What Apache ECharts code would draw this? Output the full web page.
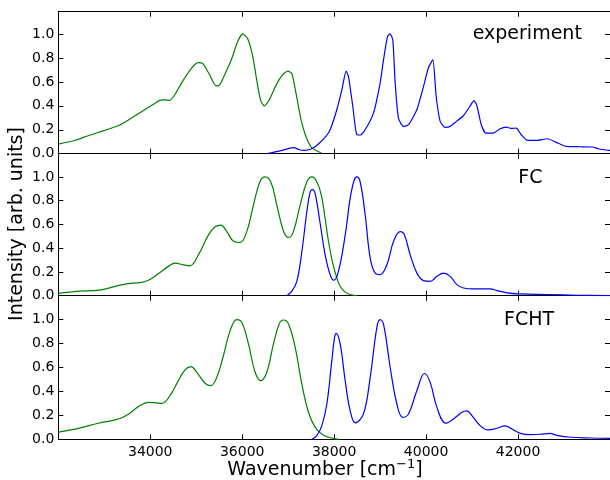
<!DOCTYPE html>
<html>
<head>
<meta charset="utf-8">
<script src="https://cdn.jsdelivr.net/npm/echarts@6/dist/echarts.min.js"></script>
<style>
  html, body { margin: 0; padding: 0; background: #fff; }
  #chart { width: 610px; height: 480px; }
</style>
</head>
<body>
<div id="chart"></div>
<script>
// Axis ticks
const wavenumberTicks = [34000, 36000, 38000, 40000, 42000];
const intensityTicks = [0, 0.2, 0.4, 0.6, 0.8, 1.0];
const panelNames = ['experiment', 'FC', 'FCHT'];

// Spectra: [wavenumber (cm^-1), normalised intensity]
const expEmission = [
  [32000,0.08],[32360,0.11],[32650,0.15],[33010,0.195],[33340,0.24],[33520,0.28],[33810,0.35],
  [34100,0.42],[34200,0.445],[34310,0.45],[34420,0.445],[34530,0.49],[34680,0.59],[34890,0.71],
  [35040,0.76],[35150,0.75],[35290,0.66],[35430,0.567],[35510,0.575],[35650,0.686],[35760,0.78],
  [35900,0.935],[36010,1.0],[36120,0.96],[36230,0.81],[36340,0.56],[36410,0.435],[36480,0.40],
  [36590,0.45],[36740,0.575],[36880,0.66],[36990,0.69],[37080,0.67],[37170,0.505],[37280,0.283],
  [37390,0.14],[37500,0.056],[37600,0.028],[37720,0.005]
];
const expAbsorption = [
  [36550,0],[36840,0.025],[37020,0.044],[37130,0.05],[37240,0.033],[37350,0.028],[37500,0.039],
  [37640,0.075],[37820,0.144],[37913,0.2],[38058,0.367],[38167,0.533],[38261,0.69],[38312,0.644],
  [38406,0.394],[38493,0.158],[38565,0.156],[38674,0.2],[38855,0.339],[39000,0.59],[39073,0.783],
  [39160,0.978],[39218,1.0],[39276,0.95],[39327,0.59],[39399,0.297],[39508,0.228],[39617,0.242],
  [39798,0.367],[39943,0.56],[40052,0.72],[40146,0.783],[40219,0.478],[40306,0.27],[40410,0.22],
  [40520,0.228],[40660,0.27],[40810,0.317],[40950,0.394],[41040,0.444],[41100,0.408],[41200,0.242],
  [41300,0.172],[41460,0.172],[41600,0.206],[41740,0.222],[41850,0.211],[41960,0.214],[42070,0.158],
  [42210,0.111],[42390,0.111],[42640,0.125],[42820,0.097],[43040,0.061],[43330,0.058],[43620,0.056],
  [43760,0.039],[43960,0.028],[44000,0.027]
];
const fcEmission = [
  [32000,0.02],[32348,0.035],[32930,0.049],[33234,0.079],[33488,0.10],[33815,0.113],[33959,0.13],
  [34176,0.185],[34394,0.247],[34540,0.275],[34720,0.26],[34866,0.252],[35047,0.344],[35264,0.51],
  [35410,0.58],[35534,0.595],[35665,0.54],[35808,0.46],[35954,0.448],[36100,0.54],[36244,0.763],
  [36390,0.964],[36498,1.0],[36629,0.952],[36753,0.763],[36897,0.545],[37006,0.49],[37114,0.54],
  [37260,0.763],[37406,0.958],[37515,1.0],[37623,0.96],[37720,0.85],[37800,0.66],[37880,0.45],
  [37960,0.29],[38050,0.16],[38130,0.08],[38240,0.03],[38360,0.008],[38500,0]
];
const fcAbsorption = [
  [36970,0],[37079,0.038],[37188,0.12],[37297,0.37],[37406,0.707],[37478,0.874],[37528,0.894],
  [37587,0.86],[37695,0.61],[37804,0.344],[37913,0.177],[37990,0.13],[38094,0.205],[38240,0.51],
  [38348,0.82],[38435,0.972],[38494,1.0],[38566,0.958],[38675,0.68],[38784,0.316],[38892,0.19],
  [39001,0.178],[39147,0.26],[39291,0.456],[39436,0.54],[39523,0.517],[39654,0.344],[39800,0.19],
  [39943,0.127],[40089,0.121],[40234,0.163],[40379,0.19],[40524,0.163],[40670,0.093],[40814,0.065],
  [41031,0.057],[41249,0.057],[41395,0.057],[41541,0.043],[41758,0.024],[42048,0.015],[42629,0.01],
  [43282,0.004],[44000,0.001]
];
const fchtEmission = [
  [32000,0.06],[32436,0.092],[32871,0.134],[33306,0.17],[33524,0.21],[33742,0.273],[33959,0.309],
  [34104,0.306],[34250,0.30],[34431,0.365],[34612,0.49],[34757,0.58],[34888,0.607],[35011,0.56],
  [35193,0.468],[35316,0.448],[35447,0.518],[35592,0.70],[35737,0.908],[35882,1.0],[35991,0.978],
  [36136,0.797],[36281,0.56],[36405,0.49],[36535,0.56],[36680,0.797],[36804,0.964],[36898,0.997],
  [37007,0.964],[37152,0.769],[37297,0.462],[37442,0.226],[37587,0.1],[37732,0.045],[37877,0.017],
  [38008,0.006],[38100,0]
];
const fchtAbsorption = [
  [37514,0],[37623,0.03],[37732,0.114],[37841,0.295],[37949,0.657],[38008,0.85],[38044,0.886],
  [38131,0.797],[38240,0.49],[38348,0.24],[38460,0.138],[38638,0.212],[38784,0.518],[38929,0.936],
  [39001,1.0],[39073,0.964],[39219,0.6],[39364,0.295],[39490,0.183],[39617,0.212],[39800,0.407],
  [39965,0.55],[40089,0.476],[40235,0.267],[40430,0.135],[40596,0.17],[40779,0.226],[40885,0.238],
  [40997,0.198],[41177,0.114],[41350,0.078],[41541,0.092],[41722,0.113],[41867,0.086],[42048,0.05],
  [42266,0.039],[42483,0.042],[42690,0.05],[42847,0.033],[43136,0.017],[43571,0.011],[44000,0.008]
];

const panelSeries = [
  [expEmission, expAbsorption],
  [fcEmission, fcAbsorption],
  [fchtEmission, fchtAbsorption]
];

const FONT = 'DejaVu Sans';
const GREEN = '#008000';
const BLUE = '#0000ff';

// Three stacked panels sharing the wavenumber range
const panels = [
  { top: 11.7, height: 142, yMax: 1.186, smooth: 0.2 },
  { top: 153.7, height: 142, yMax: 1.196, smooth: 0.4 },
  { top: 295.7, height: 143.6, yMax: 1.2, smooth: 0.4 }
];

const grid = [], xAxis = [], yAxis = [], series = [];
panels.forEach((p, i) => {
  grid.push({ left: 58.3, top: p.top, width: 552, height: p.height });
  const xBase = {
    gridIndex: i, type: 'value', min: 32000, max: 44000,
    splitLine: { show: false },
    axisLine: { onZero: false, lineStyle: { color: '#000', width: 1 } },
    axisTick: { inside: true, length: 5, customValues: wavenumberTicks, lineStyle: { color: '#000', width: 1 } }
  };
  xAxis.push(Object.assign({}, xBase, {
    position: 'bottom',
    axisLabel: {
      show: i === 2, customValues: wavenumberTicks, margin: 6,
      fontFamily: FONT, fontSize: 14, color: '#000',
      formatter: v => String(v)
    }
  }));
  xAxis.push(Object.assign({}, xBase, { position: 'top', axisLabel: { show: false } }));
  const yBase = {
    gridIndex: i, type: 'value', min: 0, max: p.yMax,
    splitLine: { show: false },
    axisLine: { show: true, onZero: false, lineStyle: { color: '#000', width: 1 } },
    axisTick: { show: true, inside: true, length: 5, customValues: intensityTicks, lineStyle: { color: '#000', width: 1 } }
  };
  yAxis.push(Object.assign({}, yBase, {
    position: 'left',
    axisLabel: {
      customValues: intensityTicks, margin: 4,
      fontFamily: FONT, fontSize: 14, color: '#000',
      formatter: v => v.toFixed(1)
    }
  }));
  yAxis.push(Object.assign({}, yBase, { position: 'right', axisLabel: { show: false } }));

  const [emission, absorption] = panelSeries[i];
  [[emission, GREEN], [absorption, BLUE]].forEach(([data, color]) => {
    series.push({
      type: 'line', xAxisIndex: 2 * i, yAxisIndex: 2 * i,
      data: data, showSymbol: false, symbol: 'none',
      smooth: p.smooth, animation: false, silent: true,
      lineStyle: { color: color, width: 1.2 }
    });
  });
});

const labelPos = [[472.7, 33.5], [518.3, 176.8], [504, 319.5]];
const graphic = panelNames.map((name, i) => ({
  type: 'text', left: labelPos[i][0], top: labelPos[i][1] - 8.6,
  style: { text: name, fontFamily: FONT, fontSize: 19, fill: '#000' }
}));
graphic.push({
  type: 'text', x: 17, y: 224, rotation: Math.PI / 2,
  style: {
    text: 'Intensity [arb. units]', fontFamily: FONT, fontSize: 19, fill: '#000',
    align: 'center', verticalAlign: 'middle'
  }
});
graphic.push({
  type: 'text', x: 325, y: 470,
  style: {
    text: '{m|Wavenumber [cm}{s|\u22121}{m|]}',
    align: 'center', verticalAlign: 'middle', fill: '#000',
    rich: {
      m: { fontFamily: FONT, fontSize: 19, lineHeight: 24, fill: '#000' },
      s: { fontFamily: FONT, fontSize: 13, lineHeight: 9, verticalAlign: 'top', fill: '#000' }
    }
  }
});

const chart = echarts.init(document.getElementById('chart'), null, { renderer: 'canvas' });
chart.setOption({
  animation: false,
  backgroundColor: '#fff',
  grid, xAxis, yAxis, series, graphic
});
</script>
</body>
</html>
